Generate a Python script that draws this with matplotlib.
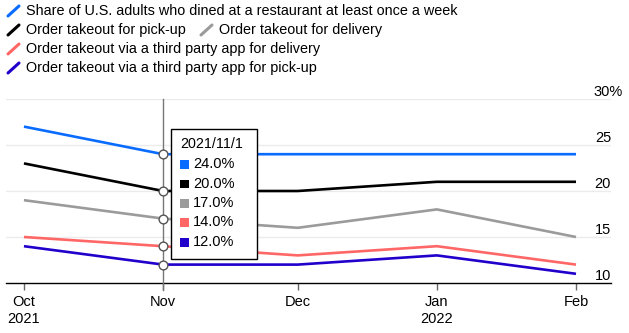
import pandas as pd
import matplotlib.pyplot as plt
import matplotlib.dates as mdates
from matplotlib.lines import Line2D
from matplotlib.patches import Rectangle

plt.rcParams['font.family'] = ['Liberation Sans', 'DejaVu Sans']

# Monthly survey values (%)
months = pd.to_datetime(["2021-10-01", "2021-11-01", "2021-12-01", "2022-01-01", "2022-02-01"])
dined_weekly = [27, 24, 24, 24, 24]
pickup = [23, 20, 20, 21, 21]
delivery = [19, 17, 16, 18, 15]
app_delivery = [15, 14, 13, 14, 12]
app_pickup = [14, 12, 12, 13, 11]

series_names = [
    "Share of U.S. adults who dined at a restaurant at least once a week",
    "Order takeout for pick-up",
    "Order takeout for delivery",
    "Order takeout via a third party app for delivery",
    "Order takeout via a third party app for pick-up",
]
series_values = [dined_weekly, pickup, delivery, app_delivery, app_pickup]
colors = ["#0a6cff", "#000000", "#9b9b9b", "#ff6767", "#2200cc"]

hover_idx = 1
y_ticks = [10, 15, 20, 25, 30]
tick_text = ["Oct\n2021", "Nov", "Dec", "Jan\n2022", "Feb"]

W, H = 629, 333
fig = plt.figure(figsize=(W / 100, H / 100), dpi=100)


def fx(px):
    return px / W


def fy(py):
    return 1 - py / H


# plot area in pixels: x 6..611, y 99..283
ax = fig.add_axes([fx(6), fy(283), fx(611) - fx(6), fy(99) - fy(283)])
ax.set_xlim(months[0] - pd.Timedelta(days=4), months[-1] + pd.Timedelta(days=7.8))
ax.set_ylim(10, 30)

for spine in ["top", "right", "left"]:
    ax.spines[spine].set_visible(False)
ax.spines["bottom"].set_color("#000000")
ax.spines["bottom"].set_linewidth(1)

for t in y_ticks[1:]:
    ax.axhline(t, color="#ebebeb", lw=1, zorder=0)
ax.set_yticks([])

ax.set_xticks(months)
ax.set_xticklabels(tick_text, fontsize=10.5, linespacing=1.2)
ax.tick_params(axis="x", length=5, width=1, color="#666666", pad=4)

# right side value labels, above gridlines
for t in y_ticks:
    if t == 30:
        ax.text(fx(593 - 6) / (fx(611) - fx(6)), t, f"{t}%", transform=ax.get_yaxis_transform(),
                ha="left", va="bottom", fontsize=10.5)
    else:
        ax.text(1.0, t, str(t), transform=ax.get_yaxis_transform(), ha="right",
                va="bottom", fontsize=10.5)

for vals, c in zip(series_values, colors):
    ax.plot(months, vals, color=c, lw=1.9, solid_capstyle="butt", zorder=3)

# crosshair + hover markers
ax.plot([months[hover_idx]] * 2, [9.25, 30], color="#777777", lw=1, clip_on=False, zorder=4)
for vals in series_values:
    ax.plot(months[hover_idx], vals[hover_idx], "o", ms=6.3, mfc="white", mec="#555555",
            mew=1, zorder=5)

# tooltip box
fig.add_artist(Rectangle((fx(171), fy(259)), fx(257) - fx(171), fy(129) - fy(259),
                         transform=fig.transFigure, facecolor="white", edgecolor="#000000",
                         lw=1, zorder=10))
d = months[hover_idx]
fig.text(fx(180), fy(144), f"{d.year}/{d.month}/{d.day}", fontsize=10.3, va="center", zorder=11)
row_y = [164, 184, 203, 222.5, 242]
for vals, c, ry in zip(series_values, colors, row_y):
    fig.add_artist(Rectangle((fx(180), fy(ry + 4.5)), fx(9), fy(0) - fy(9),
                             transform=fig.transFigure, facecolor=c, edgecolor="none",
                             zorder=11))
    fig.text(fx(193), fy(ry), f"{vals[hover_idx]:.1f}%", fontsize=10.5, va="center", zorder=11)

# legend with slanted line glyphs
legend_pos = [(7, 11), (7, 30), (200, 30), (7, 49), (7, 68)]
for name, c, (lx, ly) in zip(series_names, colors, legend_pos):
    fig.add_artist(Line2D([fx(lx + 1), fx(lx + 12)], [fy(ly + 5), fy(ly - 5)],
                          transform=fig.transFigure, color=c, lw=2.2, solid_capstyle="round"))
    fig.text(fx(lx + 19), fy(ly), name, fontsize=10.4, va="center")

fig.savefig("out.png", dpi=100)
